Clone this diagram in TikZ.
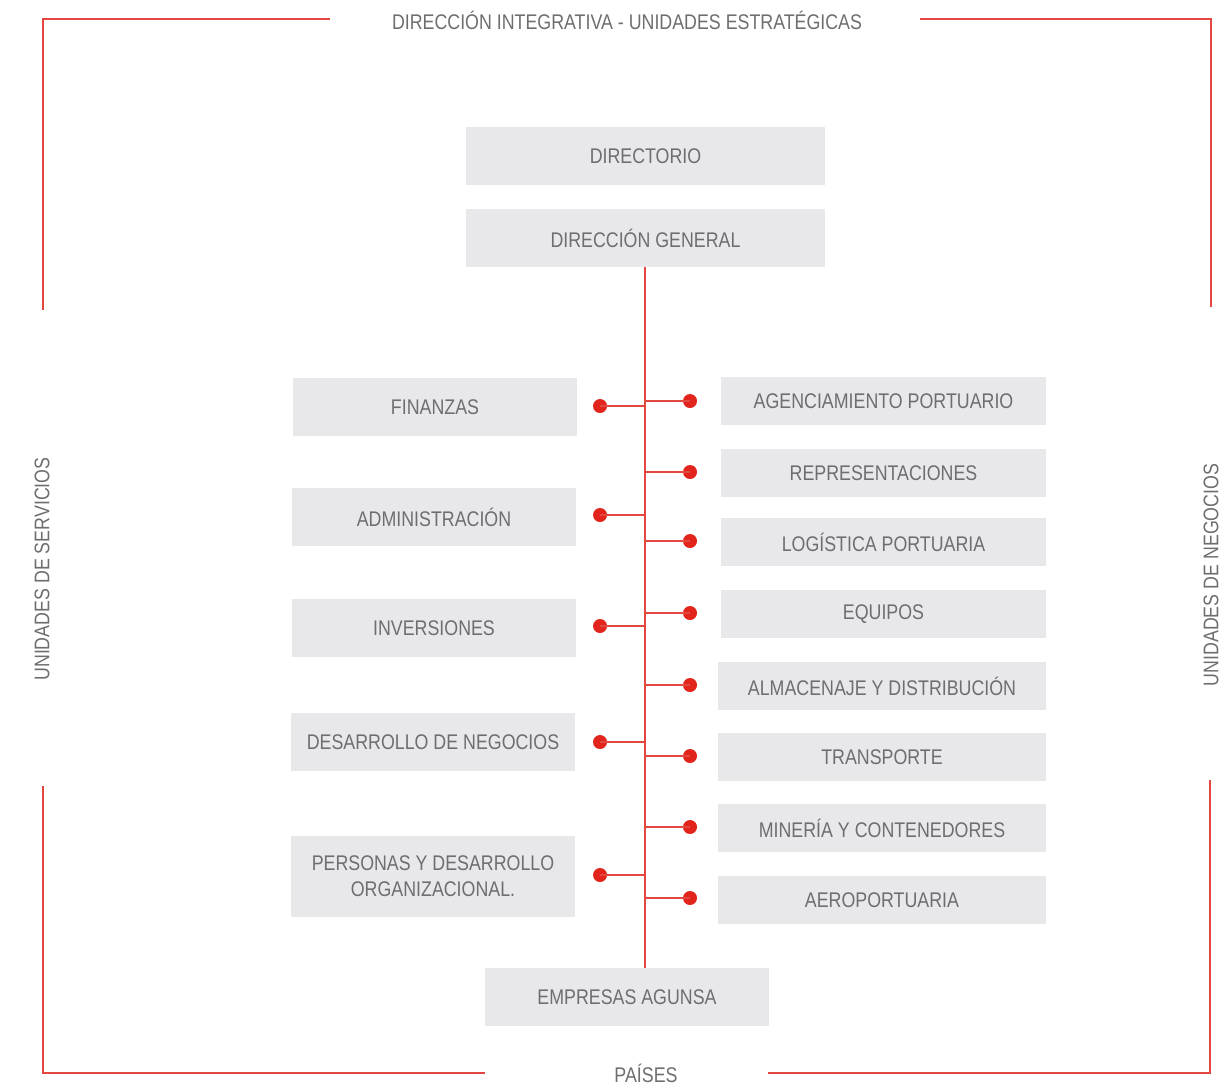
\documentclass[tikz,border=0pt]{standalone}
\usepackage{fontspec}
\setmainfont{Liberation Sans}[FakeStretch=0.84]
\definecolor{boxgray}{HTML}{E8E7E9}
\definecolor{txtgray}{HTML}{6E6E71}
\definecolor{linered}{HTML}{E4473F}
\definecolor{dotred}{HTML}{E1251D}
\newcommand\mybox[6]{\node[box, minimum width={(#4-#2)*0.5pt}, minimum height={(#5-#3)*0.5pt}] (#1) at ({(#2+#4)/2},{(#3+#5)/2+1}) {#6};}
\begin{document}
\begin{tikzpicture}[x=0.5pt,y=-0.5pt,
  box/.style={fill=boxgray, draw=none, inner sep=0pt, text=txtgray, font=\fontsize{10.6}{13}\selectfont, align=center},
  lbl/.style={text=txtgray, inner sep=0pt, font=\fontsize{10.6}{12}\selectfont},
  redline/.style={draw=linered, line width=0.75pt},
  dot/.style={circle, fill=dotred, draw=none, minimum size=7pt, inner sep=0pt}]
\useasboundingbox (0,0) rectangle (1226,1087);
% frame
\draw[redline] (330,19) -- (43,19) -- (43,310);
\draw[redline] (920,19) -- (1211,19) -- (1211,307);
\draw[redline] (43,786) -- (43,1073) -- (485,1073);
\draw[redline] (768,1073) -- (1210,1073) -- (1210,780);
\node[lbl] (title) at (627,20) {DIRECCIÓN INTEGRATIVA - UNIDADES ESTRATÉGICAS};
\node[lbl] (paises) at (646,1073) {PAÍSES};
\node[lbl, rotate=90] (servicios) at (42,569) {UNIDADES DE SERVICIOS};
\node[lbl, rotate=90] (negocios) at (1211,575) {UNIDADES DE NEGOCIOS};
% top
\mybox{dir}{466}{126}{825}{184}{DIRECTORIO}
\mybox{dg}{466}{208}{825}{266}{DIRECCIÓN GENERAL}
\mybox{ea}{485}{967}{769}{1025}{EMPRESAS AGUNSA}
\coordinate (trunk) at (645,267);
\draw[redline, line width=1pt] (trunk) -- (trunk |- ea.north);
% left
\mybox{l1}{293}{377}{577}{435}{FINANZAS}
\mybox{l2}{292}{487}{576}{545}{ADMINISTRACIÓN}
\mybox{l3}{292}{598}{576}{656}{INVERSIONES}
\mybox{l4}{291}{712}{575}{770}{DESARROLLO DE NEGOCIOS}
\mybox{l5}{291}{835}{575}{916}{PERSONAS Y DESARROLLO\\ORGANIZACIONAL.}
\foreach \n/\y in {1/406,2/515,3/626,4/742,5/875}{
  \node[dot] (ld\n) at (600,\y) {};
  \draw[redline] (ld\n.center) -- (ld\n.center -| trunk);
}
% right
\mybox{r1}{721}{376}{1046}{424}{AGENCIAMIENTO PORTUARIO}
\mybox{r2}{721}{448}{1046}{496}{REPRESENTACIONES}
\mybox{r3}{721}{517}{1046}{565}{LOGÍSTICA PORTUARIA}
\mybox{r4}{721}{589}{1046}{637}{EQUIPOS}
\mybox{r5}{718}{661}{1046}{709}{ALMACENAJE Y DISTRIBUCIÓN}
\mybox{r6}{718}{732}{1046}{780}{TRANSPORTE}
\mybox{r7}{718}{803}{1046}{851}{MINERÍA Y CONTENEDORES}
\mybox{r8}{718}{875}{1046}{923}{AEROPORTUARIA}
\foreach \n/\y in {1/401,2/472,3/541,4/613,5/685,6/756,7/827,8/898}{
  \node[dot] (rd\n) at (690,\y) {};
  \draw[redline] (rd\n.center -| trunk) -- (rd\n.center);
}
\end{tikzpicture}
\end{document}
